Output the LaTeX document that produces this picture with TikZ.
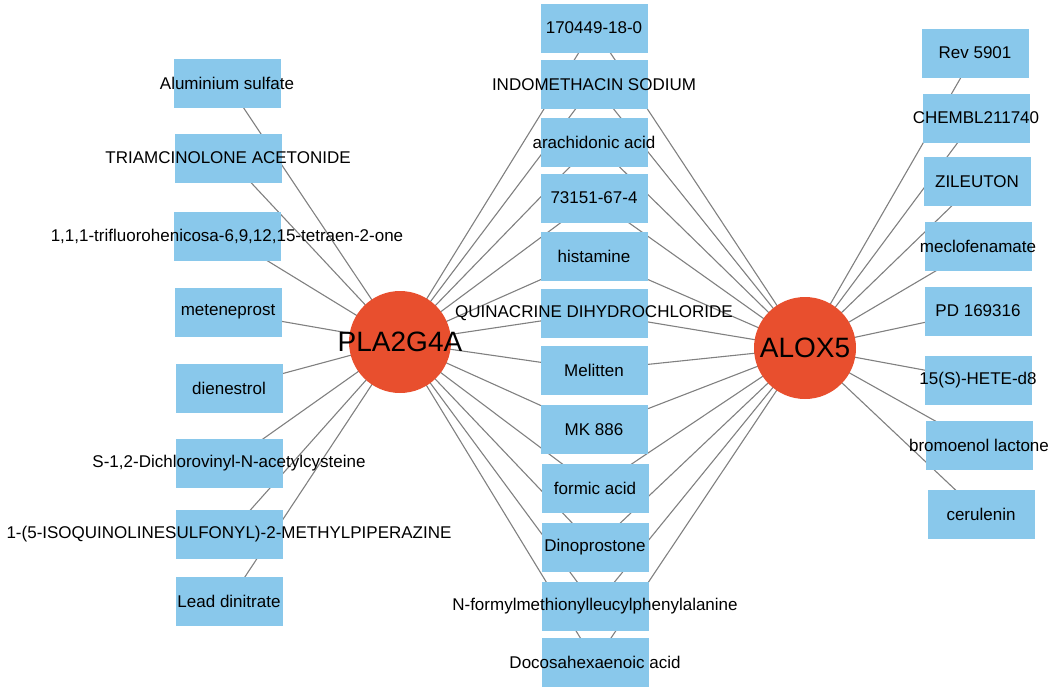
\documentclass[tikz,border=0pt]{standalone}
\usepackage{fontspec}
\setmainfont{Liberation Sans}
\usetikzlibrary{backgrounds}
\definecolor{boxblue}{RGB}{137,200,235}
\definecolor{hubred}{RGB}{232,79,46}
\definecolor{edgegray}{RGB}{128,128,128}
\tikzset{
  drug/.style={rectangle, fill=boxblue, minimum width=107pt, minimum height=49pt, inner sep=0pt},
  dlabel/.style={font=\fontsize{17}{20}\selectfont, text=black, inner sep=0pt},
  hub/.style={circle, fill=hubred, minimum size=102pt, inner sep=0pt},
  hlabel/.style={font=\fontsize{28}{32}\selectfont, text=black, inner sep=0pt},
  edge/.style={draw=edgegray, line width=1.1pt}
}
\begin{document}
\begin{tikzpicture}[x=1pt,y=-1pt]
\useasboundingbox (0,0) rectangle (1052,691);
% hubs
\node[hub, label={[hlabel]center:PLA2G4A}] (P) at (400,342) {};
\node[hub, label={[hlabel]center:ALOX5}] (A) at (805,348) {};
% left column
\node[drug, label={[dlabel]center:Aluminium sulfate}] (L1) at (227,83) {};
\node[drug, label={[dlabel]center:TRIAMCINOLONE ACETONIDE}] (L2) at (228,158) {};
\node[drug, label={[dlabel]center:1,1,1-trifluorohenicosa-6,9,12,15-tetraen-2-one}] (L3) at (227,236) {};
\node[drug, label={[dlabel]center:meteneprost}] (L4) at (228,312) {};
\node[drug, label={[dlabel]center:dienestrol}] (L5) at (229,388) {};
\node[drug, label={[dlabel]center:S-1,2-Dichlorovinyl-N-acetylcysteine}] (L6) at (229,463) {};
\node[drug, label={[dlabel]center:1-(5-ISOQUINOLINESULFONYL)-2-METHYLPIPERAZINE}] (L7) at (229,534) {};
\node[drug, label={[dlabel]center:Lead dinitrate}] (L8) at (229,601) {};
% middle column
\node[drug, label={[dlabel]center:170449-18-0}] (M1) at (594,28) {};
\node[drug, label={[dlabel]center:INDOMETHACIN SODIUM}] (M2) at (594,84.5) {};
\node[drug, label={[dlabel]center:arachidonic acid}] (M3) at (594,142) {};
\node[drug, label={[dlabel]center:73151-67-4}] (M4) at (594,198) {};
\node[drug, label={[dlabel]center:histamine}] (M5) at (594,256) {};
\node[drug, label={[dlabel]center:QUINACRINE DIHYDROCHLORIDE}] (M6) at (594,313) {};
\node[drug, label={[dlabel]center:Melitten}] (M7) at (594,370) {};
\node[drug, label={[dlabel]center:MK 886}] (M8) at (594,429.5) {};
\node[drug, label={[dlabel]center:formic acid}] (M9) at (595,488.5) {};
\node[drug, label={[dlabel]center:Dinoprostone}] (M10) at (595,547) {};
\node[drug, label={[dlabel]center:N-formylmethionylleucylphenylalanine}] (M11) at (595,606) {};
\node[drug, label={[dlabel]center:Docosahexaenoic acid}] (M12) at (595,662) {};
% right column
\node[drug, label={[dlabel]center:Rev 5901}] (R1) at (975,53) {};
\node[drug, label={[dlabel]center:CHEMBL211740}] (R2) at (976,118) {};
\node[drug, label={[dlabel]center:ZILEUTON}] (R3) at (977,181.5) {};
\node[drug, label={[dlabel]center:meclofenamate}] (R4) at (978,246) {};
\node[drug, label={[dlabel]center:PD 169316}] (R5) at (978,311) {};
\node[drug, label={[dlabel]center:15(S)-HETE-d8}] (R6) at (978,380) {};
\node[drug, label={[dlabel]center:bromoenol lactone}] (R7) at (979,445.5) {};
\node[drug, label={[dlabel]center:cerulenin}] (R8) at (981,514) {};
% edges
\begin{scope}[on background layer]
  \foreach \n in {L1,L2,L3,L4,L5,L6,L7,L8,M1,M2,M3,M4,M5,M6,M7,M8,M9,M10,M11,M12}
    \draw[edge] (P.center) -- (\n.center);
  \foreach \n in {R1,R2,R3,R4,R5,R6,R7,R8,M1,M2,M3,M4,M5,M6,M7,M8,M9,M10,M11,M12}
    \draw[edge] (A.center) -- (\n.center);
\end{scope}
\end{tikzpicture}
\end{document}
